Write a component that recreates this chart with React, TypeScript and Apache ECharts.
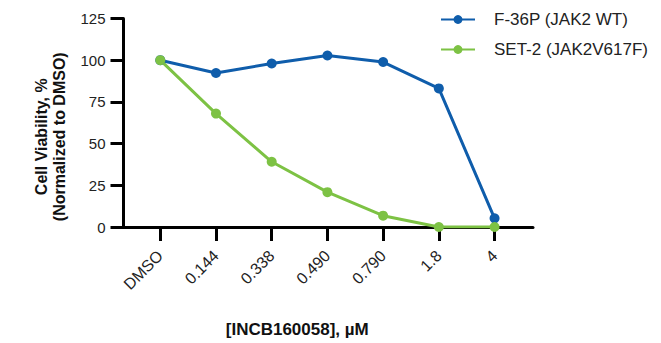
import React, { useEffect, useRef } from "react";
import * as echarts from "echarts";

const categories = ["DMSO", "0.144", "0.338", "0.490", "0.790", "1.8", "4"];
const f36pValues = [100, 92.3, 98.0, 102.8, 98.9, 83.1, 5.2];
const set2Values = [100, 68.0, 39.1, 20.9, 6.8, 0, 0];
const seriesNames = ["F-36P (JAK2 WT)", "SET-2 (JAK2V617F)"];
const yMin = 0;
const yMax = 125;
const yStep = 25;

const BLUE = "#0f5dab";
const GREEN = "#7dc244";

export default function App() {
  const ref = useRef<HTMLDivElement>(null);
  useEffect(() => {
    if (!ref.current) return;
    const chart = echarts.init(ref.current, null, { renderer: "svg" });
    const idx = categories.map((_, i) => i);
    const toPairs = (vals: number[]) => vals.map((v, i) => [i, v]);
    chart.setOption({
      animation: false,
      grid: { left: 123.5, right: 128, top: 18.5, bottom: 115.3 },
      legend: {
        data: seriesNames,
        orient: "vertical",
        left: 435,
        top: 6,
        itemWidth: 34,
        itemHeight: 11,
        itemGap: 13,
        formatter: "{t|{name}}",
        textStyle: {
          fontSize: 17,
          color: "#222222",
          rich: { t: { fontSize: 17, color: "#222222", padding: [0, 0, 0, 14] } },
        },
      },
      xAxis: {
        type: "value",
        min: -0.66,
        max: 6.69,
        name: "[INCB160058], µM",
        nameLocation: "middle",
        nameGap: 94,
        nameTextStyle: { fontSize: 17, fontWeight: "bold", color: "#111111", padding: [0, 62, 0, 0] },
        splitLine: { show: false },
        axisLine: { show: true, lineStyle: { color: "#000000", width: 3, opacity: 1 } },
        axisTick: { show: true, length: 14, lineStyle: { color: "#000000", width: 3, opacity: 1 }, customValues: idx },
        axisLabel: {
          customValues: idx,
          rotate: 45,
          margin: 26,
          fontSize: 16,
          color: "#222222",
          formatter: (v: number) => "{c|" + (categories[Math.round(v)] ?? "") + "}",
          rich: { c: { fontSize: 16, color: "#222222" } },
        },
      },
      yAxis: {
        type: "value",
        min: yMin,
        max: yMax,
        interval: yStep,
        name: "Cell Viability, %\n(Normalized to DMSO)",
        nameLocation: "middle",
        nameGap: 55,
        nameTextStyle: { fontSize: 16, fontWeight: "bold", color: "#111111", lineHeight: 18, padding: [0, 28, 0, 0] },
        splitLine: { show: false },
        axisLine: { show: true, onZero: false, lineStyle: { color: "#000000", width: 3, opacity: 1 } },
        axisTick: { show: true, length: 13, lineStyle: { color: "#000000", width: 3, opacity: 1 } },
        axisLabel: {
          fontSize: 15,
          color: "#222222",
          margin: 18,
          formatter: "{v|{value}}",
          rich: { v: { fontSize: 15, color: "#222222" } },
        },
      },
      series: [
        {
          name: seriesNames[0],
          type: "line",
          data: toPairs(f36pValues),
          symbol: "circle",
          symbolSize: 10,
          lineStyle: { width: 3, color: BLUE },
          itemStyle: { color: BLUE },
        },
        {
          name: seriesNames[1],
          type: "line",
          data: toPairs(set2Values),
          symbol: "circle",
          symbolSize: 10,
          lineStyle: { width: 3, color: GREEN },
          itemStyle: { color: GREEN },
        },
      ],
    });
    return () => chart.dispose();
  }, []);
  return <div ref={ref} style={{ position: "fixed", left: 0, top: 0, width: 661, height: 343, background: "#fff" }} />;
}
